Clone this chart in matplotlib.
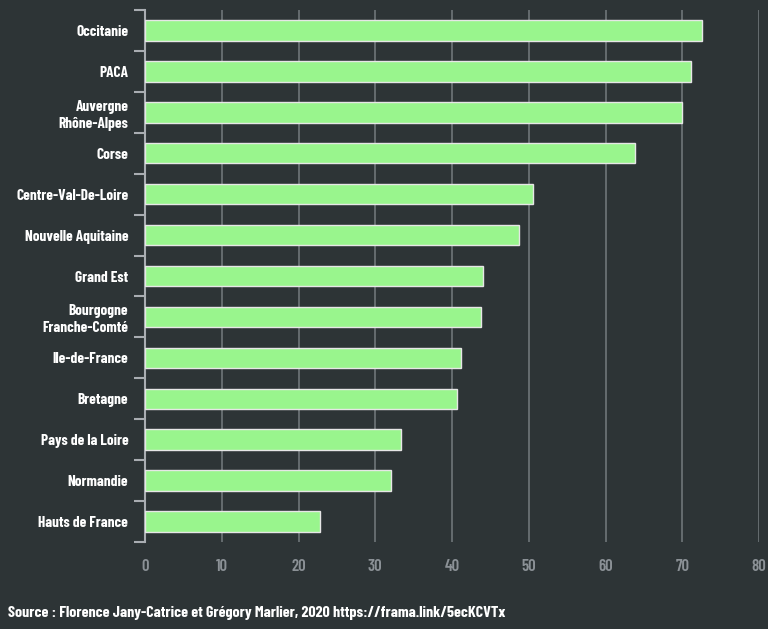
import matplotlib.pyplot as plt
from matplotlib.ticker import FixedLocator

# data
regions = ['Occitanie', 'PACA', 'Auvergne\nRhône-Alpes', 'Corse', 'Centre-Val-De-Loire',
           'Nouvelle Aquitaine', 'Grand Est', 'Bourgogne\nFranche-Comté', 'Ile-de-France',
           'Bretagne', 'Pays de la Loire', 'Normandie', 'Hauts de France']
values = [72.6, 71.1, 70.0, 63.8, 50.6, 48.7, 44.0, 43.8, 41.2, 40.6, 33.4, 32.1, 22.8]
x_ticks = [0, 10, 20, 30, 40, 50, 60, 70, 80]
source = 'Source : Florence Jany-Catrice et Grégory Marlier, 2020 https://frama.link/5ecKCVTx'

bg = '#2d3436'
plt.rcParams['font.family'] = ['Barlow Condensed', 'DejaVu Sans']

fig = plt.figure(figsize=(7.68, 6.29), dpi=100, facecolor=bg)
ax = fig.add_axes([145 / 768, 1 - 542 / 629, 614 / 768, 532 / 629])
ax.set_facecolor(bg)

pos = list(range(len(regions)))
ax.barh(pos, values, height=0.5, color='#99f58d', edgecolor='#e6e6e6', linewidth=1, zorder=3)

ax.set_xlim(0, 80)
ax.set_ylim(len(regions) - 0.5, -0.5)

# vertical grid
for t in x_ticks[1:]:
    ax.axvline(t, color='#6f7579', linewidth=1.2, zorder=1)

ax.set_xticks(x_ticks)
ax.set_xticklabels([str(t) for t in x_ticks], color='#8b9196', fontsize=12, fontweight='semibold')
ax.tick_params(axis='x', length=0, pad=12)

ax.set_yticks(pos)
ax.set_yticklabels(regions, color='white', fontsize=11, fontweight='bold', ha='right',
                   linespacing=1.25)
ax.tick_params(axis='y', which='major', length=0, pad=12)
ax.yaxis.set_minor_locator(FixedLocator([p - 0.5 for p in pos] + [len(regions) - 0.5]))
ax.tick_params(axis='y', which='minor', length=8, width=1.5, color='#a9adb2')

for s in ['top', 'right', 'bottom']:
    ax.spines[s].set_visible(False)
ax.spines['left'].set_color('#a9adb2')
ax.spines['left'].set_linewidth(1.5)

fig.text(8 / 768, 1 - 613 / 629, source, color='white', fontsize=11.5,
         fontweight='bold', va='center', ha='left')

fig.savefig('out.png', dpi=100, facecolor=bg)
